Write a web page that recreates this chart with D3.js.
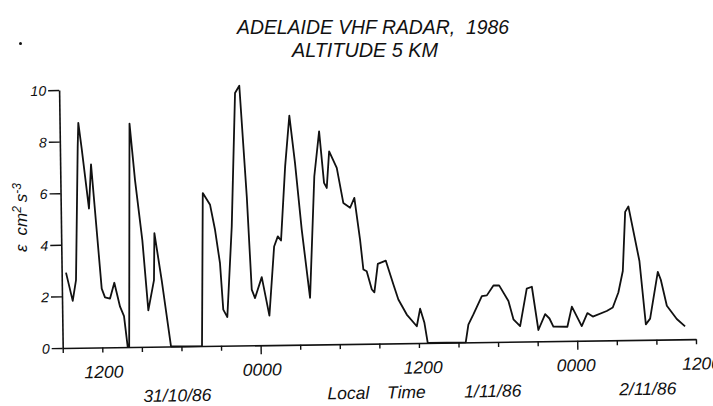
<!DOCTYPE html>
<html>
<head>
<meta charset="utf-8">
<script src="https://cdn.jsdelivr.net/npm/d3@7"></script>
<style>
  body { margin: 0; background: #fff; }
  svg { display: block; }
  text { font-family: "Liberation Sans", Arial, sans-serif; font-style: italic; fill: #111; }
</style>
</head>
<body>
<div id="chart"></div>
<script>
// hours after 0900 local time on the first day
var hours = [0.33, 0.81, 1.08, 1.35, 1.42, 1.65, 2.14, 2.34, 3.02, 3.26, 3.64, 3.98, 4.39, 4.68, 4.93, 5.04,
  5.3, 5.66, 6.15, 6.53, 6.99, 7.07, 7.58, 8.21, 10.56, 10.78, 11.32, 11.67, 12.01, 12.21, 12.51, 12.94,
  13.33, 13.66, 14.11, 14.39, 14.63, 15.16, 15.7, 16.13, 16.42, 16.66, 17.05, 17.42, 17.8, 18.24, 18.8,
  19.25, 19.66, 19.98, 20.18, 20.4, 20.96, 21.42, 21.93, 22.26, 22.65, 22.87, 23.12, 23.49, 23.68, 23.97,
  24.58, 25.13, 25.49, 26.11, 26.86, 27.13, 27.44, 27.67, 30.55, 30.77, 31.16, 31.82, 32.2, 32.71, 33.14,
  33.83, 34.19, 34.69, 35.23, 35.62, 36.07, 36.6, 36.92, 37.21, 38.27, 38.63, 39.36, 39.8, 40.21, 41.27,
  41.73, 42.17, 42.53, 42.77, 43.02, 43.8, 44.22, 44.55, 45.18, 45.4, 45.83, 46.57, 47.19]

// dissipation rate, cm2 s-3
var epsilon = [2.92, 1.82, 2.62, 7.8, 8.72, 7.72, 5.39, 7.1, 2.28, 1.94, 1.89, 2.5, 1.57, 1.2, 0, 0,
  8.66, 6.46, 4.13, 1.41, 2.58, 4.4, 2.55, 0, 0, 5.93, 5.47, 4.5, 3.2, 1.4, 1.11, 4.62,
  9.79, 10.07, 5.78, 2.16, 1.83, 2.64, 1.14, 3.82, 4.21, 4.05, 6.92, 8.88, 7.05, 4.46, 1.81,
  6.52, 8.26, 6.26, 6.06, 7.48, 6.83, 5.47, 5.28, 5.66, 4.04, 2.88, 2.81, 2.1, 1.99, 3.09,
  3.21, 2.28, 1.7, 1.11, 0.65, 1.33, 0.78, 0, 0, 0.69, 1.08, 1.78, 1.81, 2.19, 2.19,
  1.58, 0.87, 0.6, 2.05, 2.12, 0.44, 1.05, 0.88, 0.56, 0.55, 1.33, 0.57, 1.07, 0.93, 1.14,
  1.27, 1.85, 2.68, 4.97, 5.18, 3.06, 0.6, 0.82, 2.63, 2.32, 1.31, 0.79, 0.5]

var xTicks = d3.range(0, 49, 3)
var midnightTicks = [15, 39]
var tickLabelHours = [3.1, 15.1, 27.3, 38.9, 48.4]
var tickLabels = ["1200", "0000", "1200", "0000", "1200"]
var dateLabelHours = [8.64, 32.55, 44.3]
var dateLabels = ["31/10/86", "1/11/86", "2/11/86"]
var axisWordHours = [21.6, 26.0]
var axisWords = ["Local", "Time"]
var yTicks = [0, 2, 4, 6, 8, 10]
var titleLines = ["ADELAIDE VHF RADAR,  1986", "ALTITUDE 5 KM"]

var svgWidth = 713
var svgHeight = 406
var origin = { x: 62.7, y: 348 }
var width = 633.3
var height = 258

var svg = d3.select("#chart")
  .append("svg")
  .attr("width", svgWidth)
  .attr("height", svgHeight)

// the scanned figure is tilted a little
var chartGroup = svg.append("g")
  .attr("transform", `translate(${origin.x}, ${origin.y}) rotate(-0.8)`)

var xScale = d3.scaleLinear().domain([0, 48]).range([0, width])
var yScale = d3.scaleLinear().domain([0, 10]).range([0, -height])

// x axis
var xAxis = chartGroup.append("g")
  .call(d3.axisBottom(xScale).tickValues(xTicks).tickSize(5).tickSizeOuter(0).tickFormat(""))
xAxis.select(".domain").attr("stroke", "#111").attr("stroke-width", 1.6)
xAxis.selectAll(".tick line")
  .attr("stroke", "#111")
  .attr("stroke-width", 1.4)
  .attr("y2", d => midnightTicks.includes(d) ? 9 : 5)

// y axis
var yAxis = chartGroup.append("g")
  .call(d3.axisLeft(yScale).tickValues(yTicks).tickSize(11).tickPadding(2).tickSizeOuter(0))
yAxis.select(".domain").attr("stroke", "#111").attr("stroke-width", 1.6)
yAxis.selectAll(".tick line").attr("stroke", "#111").attr("stroke-width", 1.4)
yAxis.selectAll(".tick text")
  .attr("font-family", null)
  .style("font-size", "14px")
  .attr("fill", "#111")
  .attr("dy", "0.36em")
yAxis.attr("font-family", null).attr("font-size", null)

// time labels
chartGroup.selectAll(".tickLabel")
  .data(tickLabels)
  .enter()
  .append("text")
  .attr("x", (d, i) => xScale(tickLabelHours[i]))
  .attr("y", 30.5)
  .attr("text-anchor", "middle")
  .style("font-size", "17.5px")
  .text(d => d)

chartGroup.selectAll(".dateLabel")
  .data(dateLabels)
  .enter()
  .append("text")
  .attr("x", (d, i) => xScale(dateLabelHours[i]))
  .attr("y", 55)
  .attr("text-anchor", "middle")
  .style("font-size", "17.5px")
  .text(d => d)

chartGroup.selectAll(".axisWord")
  .data(axisWords)
  .enter()
  .append("text")
  .attr("x", (d, i) => xScale(axisWordHours[i]))
  .attr("y", 55)
  .attr("text-anchor", "middle")
  .style("font-size", "17.5px")
  .text(d => d)

// trace
var line = d3.line()
  .x(i => xScale(hours[i]))
  .y(i => yScale(epsilon[i]))

chartGroup.append("path")
  .datum(d3.range(hours.length))
  .attr("d", line)
  .attr("fill", "none")
  .attr("stroke", "#111")
  .attr("stroke-width", 1.8)
  .attr("stroke-linejoin", "round")

// y label
var yLabel = svg.append("text")
  .attr("transform", "translate(26.5, 252) rotate(-90)")
  .style("font-size", "17px")
yLabel.append("tspan").text("ε")
yLabel.append("tspan").attr("dx", 9).text("cm")
yLabel.append("tspan").attr("dy", -6).style("font-size", "12px").text("2")
yLabel.append("tspan").attr("dx", 4).attr("dy", 6).text("s")
yLabel.append("tspan").attr("dy", -6).style("font-size", "12px").text("-3")

// titles
svg.append("text")
  .attr("x", 373)
  .attr("y", 34)
  .attr("text-anchor", "middle")
  .attr("textLength", 272)
  .attr("lengthAdjust", "spacingAndGlyphs")
  .style("font-size", "19.5px")
  .style("white-space", "pre")
  .text(titleLines[0])

svg.append("text")
  .attr("x", 365)
  .attr("y", 57)
  .attr("text-anchor", "middle")
  .attr("textLength", 146)
  .attr("lengthAdjust", "spacingAndGlyphs")
  .style("font-size", "19.5px")
  .text(titleLines[1])

// stray mark on the scan
svg.append("circle")
  .attr("cx", 20.5)
  .attr("cy", 43.5)
  .attr("r", 1.5)
  .attr("fill", "#111")
</script>
</body>
</html>
